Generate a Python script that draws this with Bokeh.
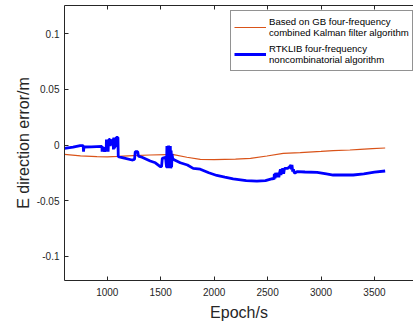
from bokeh.plotting import figure
from bokeh.models import Range1d, LinearAxis, FixedTicker, Legend, LegendItem, CustomJSTickFormatter
from bokeh.embed import file_html
from bokeh.resources import INLINE

# ---- data ----
gb_epoch = [600, 750, 904, 1000, 1100, 1245, 1400, 1558, 1620, 1745, 1870, 2000, 2200,
            2340, 2494, 2646, 2805, 3000, 3114, 3270, 3366, 3480, 3600]
gb_error = [-0.0084, -0.0097, -0.0105, -0.0106, -0.0103, -0.0096, -0.0090, -0.0087, -0.0087,
            -0.0110, -0.0129, -0.0131, -0.0127, -0.0121, -0.0099, -0.0075, -0.0069, -0.0058,
            -0.0051, -0.0045, -0.0039, -0.0033, -0.0027]

rtk_epoch = [600, 680, 747, 775, 778, 782, 850, 950,
             952, 958, 962, 968, 975, 985, 990, 992, 998, 1003, 1008, 1012, 1018, 1025,
             1028, 1035, 1045, 1055, 1058, 1062, 1068, 1072, 1080, 1085, 1095, 1100,
             1103, 1150, 1231, 1255, 1262, 1285, 1292, 1325, 1402, 1450, 1496, 1508,
             1515, 1545, 1555, 1558, 1562, 1566, 1570, 1574, 1578, 1582, 1586, 1590,
             1594, 1598, 1602, 1606, 1612, 1620,
             1683, 1750, 1804, 1870, 1950, 2025, 2100, 2178, 2300, 2400, 2480, 2553,
             2560, 2563, 2570, 2575, 2585, 2590, 2600, 2605, 2612, 2620, 2625, 2632,
             2645, 2650, 2658, 2675, 2690, 2700, 2712, 2718, 2722, 2728, 2735, 2742,
             2750, 2760, 2775,
             2850, 2964, 3050, 3114, 3180, 3301, 3400, 3500, 3600]
rtk_error = [-0.0030, -0.0020, -0.0006, -0.0005, -0.0060, -0.0018, -0.0016, -0.0013,
             -0.0060, -0.0015, -0.0060, -0.0020, -0.0060, -0.0020, -0.0060, 0.0050, -0.0060,
             0.0050, -0.0060, 0.0040, 0.0050, 0.0050,
             -0.0010, 0.0040, 0.0040, 0.0050, -0.0040, 0.0068, -0.0030, 0.0068, -0.0020,
             0.0068, 0.0068, 0.0068,
             -0.0105, -0.0115, -0.0135, -0.0130, -0.0060, -0.0060, -0.0100, -0.0110,
             -0.0144, -0.0160, -0.0195, -0.0195,
             -0.0120, -0.0110, -0.0200, -0.0010, -0.0210, -0.0020, -0.0200, -0.0005,
             -0.0210, -0.0030, -0.0200, -0.0010, -0.0210, -0.0050, -0.0200, -0.0080,
             -0.0120, -0.0130,
             -0.0160, -0.0180, -0.0210, -0.0218, -0.0250, -0.0274, -0.0290, -0.0305,
             -0.0320, -0.0325, -0.0320, -0.0300,
             -0.0310, -0.0260, -0.0300, -0.0250, -0.0290, -0.0260, -0.0260, -0.0290,
             -0.0250, -0.0220, -0.0270, -0.0220, -0.0220, -0.0260, -0.0210, -0.0210,
             -0.0210, -0.0200, -0.0190, -0.0180, -0.0220, -0.0180, -0.0240, -0.0220,
             -0.0250, -0.0250, -0.0240,
             -0.0243, -0.0247, -0.0260, -0.0270, -0.0268, -0.0270, -0.0260, -0.0245, -0.0234]

x_ticks = [1000, 1500, 2000, 2500, 3000, 3500]
y_ticks = [-0.1, -0.05, 0, 0.05, 0.1]
y_tick_labels = ["-0.1", "-0.05", "0", "0.05", "0.1"]

label_gb = "Based on GB four-frequency\ncombined Kalman filter algorithm"
label_rtk = "RTKLIB four-frequency\nnoncombinatorial algorithm"

FONT = "Liberation Sans"
AX = "#262626"

p = figure(width=413, height=324, output_backend="svg", toolbar_location=None,
           x_range=Range1d(600, 3865), y_range=Range1d(-0.1219, 0.1255),
           min_border_left=64, min_border_right=0, min_border_top=5, min_border_bottom=44,
           x_axis_label="Epoch/s", y_axis_label="E direction error/m")
p.outline_line_color = None
p.grid.visible = False
p.background_fill_color = "white"
p.border_fill_color = "white"

r1 = p.line(gb_epoch, gb_error, line_color="#D95319", line_width=1.2)
r2 = p.line(rtk_epoch, rtk_error, line_color="#0000FF", line_width=2.8)

for ax in (p.xaxis[0], p.yaxis[0]):
    ax.axis_line_color = AX
    ax.axis_line_width = 1
    ax.major_tick_line_color = AX
    ax.major_tick_in = 4
    ax.major_tick_out = 0
    ax.minor_tick_line_color = None
    ax.major_label_text_font = FONT
    ax.major_label_text_font_size = "10px"
    ax.major_label_text_color = AX
    ax.axis_label_text_font = FONT
    ax.axis_label_text_font_size = "16px"
    ax.axis_label_text_font_style = "normal"
    ax.axis_label_text_color = AX

p.xaxis[0].ticker = FixedTicker(ticks=x_ticks)
p.xaxis[0].major_label_standoff = 7
p.xaxis[0].axis_label_standoff = 5
p.yaxis[0].ticker = FixedTicker(ticks=y_ticks)
p.yaxis[0].major_label_overrides = {t: s for t, s in zip(y_ticks, y_tick_labels)}
p.yaxis[0].major_label_standoff = 5
p.yaxis[0].axis_label_standoff = 2

top = LinearAxis(ticker=FixedTicker(ticks=x_ticks),
                 formatter=CustomJSTickFormatter(code="return ''"))
top.axis_line_color = AX
top.major_tick_line_color = AX
top.major_tick_in = 4
top.major_tick_out = 0
top.minor_tick_line_color = None
top.major_label_standoff = 0
p.add_layout(top, "above")

legend = Legend(items=[LegendItem(label=label_gb, renderers=[r1]),
                       LegendItem(label=label_rtk, renderers=[r2])],
                location=(166, 209))
legend.label_text_font = FONT
legend.label_text_font_size = "9.6px"
legend.label_text_color = "black"
legend.label_text_line_height = 1.35
legend.glyph_width = 32
legend.glyph_height = 26
legend.label_standoff = 3
legend.padding = 3
legend.spacing = 1
legend.margin = 0
legend.border_line_color = AX
legend.border_line_width = 1
legend.background_fill_alpha = 1
p.add_layout(legend, "center")

open("out.html", "w").write(file_html(p, INLINE))
